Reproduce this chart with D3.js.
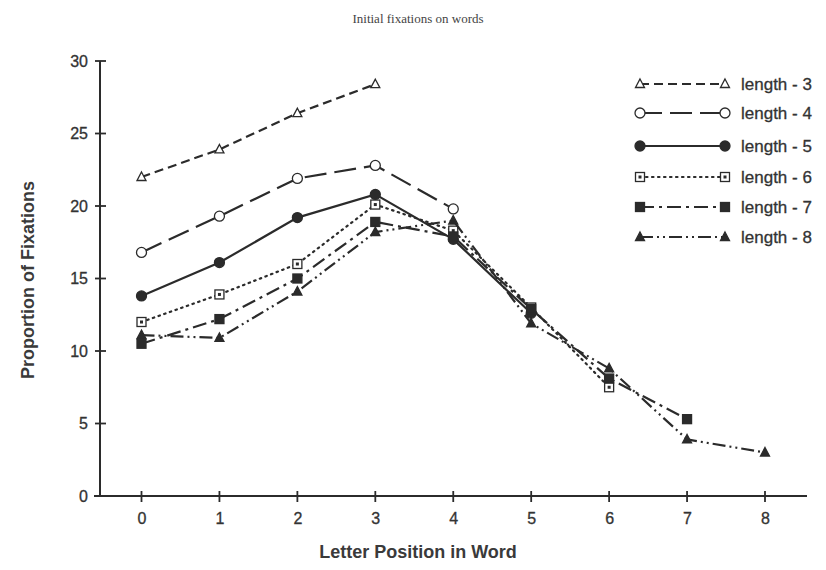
<!DOCTYPE html>
<html><head><meta charset="utf-8">
<script src="https://cdn.jsdelivr.net/npm/d3@7"></script>
<style>body{margin:0;background:#fff}svg{display:block}</style>
</head><body>
<svg id="c" width="826" height="570"></svg>
<script>
const positions = [0,1,2,3,4,5,6,7,8];
const seriesNames = ["length - 3","length - 4","length - 5","length - 6","length - 7","length - 8"];
const len3 = [22.0, 23.9, 26.4, 28.4];
const len4 = [16.8, 19.3, 21.9, 22.8, 19.8];
const len5 = [13.8, 16.1, 19.2, 20.8, 17.7, 12.6];
const len6 = [12.0, 13.9, 16.0, 20.1, 18.3, 13.0, 7.5];
const len7 = [10.5, 12.2, 15.0, 18.9, 17.9, 12.9, 8.1, 5.3];
const len8 = [11.1, 10.9, 14.1, 18.2, 19.0, 11.9, 8.8, 3.9, 3.0];
const yTicks = [0,5,10,15,20,25,30];
const title = "Initial fixations on words";
const xTitle = "Letter Position in Word";
const yTitle = "Proportion of Fixations";

const seriesValues = [len3, len4, len5, len6, len7, len8];
const dashes = ["9,5", "22,8", null, "1.5,4.5", "14,5,3,5", "13,4,2,4,2,4"];
const markers = ["triOpen","circOpen","circFill","sqDot","sqFill","triFill"];
const ink = "#2b2b2b";

const svg = d3.select("#c");
const x = d3.scaleLinear().domain([0,8]).range([141.5, 765]);
const y = d3.scaleLinear().domain([0,30]).range([496, 61]);

// title
svg.append("text").attr("x",418).attr("y",23).attr("text-anchor","middle")
  .attr("font-family","Liberation Serif, Times New Roman, serif").attr("font-size",13)
  .attr("fill","#444").text(title);

// axes
const yAxis = d3.axisLeft(y).tickValues(yTicks).tickSize(0).tickPadding(12);
const gy = svg.append("g").attr("transform","translate(100,0)").call(yAxis);
gy.select(".domain").remove();
gy.selectAll("text").attr("font-family","Liberation Sans, Arial, sans-serif").attr("font-size",16)
  .attr("fill","#333").attr("stroke","#333").attr("stroke-width",0.3);
svg.append("line").attr("x1",100).attr("x2",100).attr("y1",y(30)).attr("y2",y(0)+1).attr("stroke",ink).attr("stroke-width",2);
svg.selectAll(".ytk").data(yTicks).enter().append("line")
  .attr("x1",95).attr("x2",106).attr("y1",d=>y(d)).attr("y2",d=>y(d)).attr("stroke",ink).attr("stroke-width",1.8);

const xAxis = d3.axisBottom(x).tickValues(positions).tickSize(0).tickPadding(17).tickFormat(d3.format("d"));
const gx = svg.append("g").attr("transform",`translate(0,${y(0)})`).call(xAxis);
gx.select(".domain").remove();
gx.selectAll("text").attr("font-family","Liberation Sans, Arial, sans-serif").attr("font-size",16)
  .attr("fill","#333").attr("stroke","#333").attr("stroke-width",0.3);
svg.append("line").attr("x1",94).attr("x2",807).attr("y1",y(0)).attr("y2",y(0)).attr("stroke",ink).attr("stroke-width",2);
svg.selectAll(".xtk").data(positions).enter().append("line")
  .attr("x1",d=>x(d)).attr("x2",d=>x(d)).attr("y1",y(0)-5).attr("y2",y(0)+6).attr("stroke",ink).attr("stroke-width",1.8);

svg.append("text").attr("x",418).attr("y",558).attr("text-anchor","middle")
  .attr("font-family","Liberation Sans, Arial, sans-serif").attr("font-size",18).attr("font-weight","bold")
  .attr("fill","#3a3a3a").text(xTitle);
svg.append("text").attr("transform","translate(34,280) rotate(-90)").attr("text-anchor","middle")
  .attr("font-family","Liberation Sans, Arial, sans-serif").attr("font-size",18).attr("font-weight","bold")
  .attr("fill","#3a3a3a").text(yTitle);

function drawMarker(g, type, cx, cy){
  const s = 4.5;
  if(type==="triOpen"||type==="triFill"){
    g.append("path").attr("d",`M${cx},${cy-s-0.5}L${cx+s},${cy+s-1}L${cx-s},${cy+s-1}Z`)
      .attr("fill",type==="triFill"?ink:"#fff").attr("stroke",ink).attr("stroke-width",1.3);
  } else if(type==="circOpen"||type==="circFill"){
    g.append("circle").attr("cx",cx).attr("cy",cy).attr("r",5)
      .attr("fill",type==="circFill"?ink:"#fff").attr("stroke",ink).attr("stroke-width",1.3);
  } else if(type==="sqDot"||type==="sqFill"){
    g.append("rect").attr("x",cx-4.5).attr("y",cy-4.5).attr("width",9).attr("height",9)
      .attr("fill",type==="sqFill"?ink:"#fff").attr("stroke",ink).attr("stroke-width",1.3);
    if(type==="sqDot") g.append("rect").attr("x",cx-1.5).attr("y",cy-1.5).attr("width",3).attr("height",3).attr("fill",ink);
  }
}

const line = d3.line().x((d,i)=>x(positions[i])).y(d=>y(d));
seriesValues.forEach((vals,k)=>{
  const g = svg.append("g");
  g.append("path").attr("d",line(vals)).attr("fill","none").attr("stroke",ink)
    .attr("stroke-width",2.2).attr("stroke-dasharray",dashes[k]).attr("stroke-linecap",k===3?"round":"butt");
  vals.forEach((v,i)=>drawMarker(g, markers[k], x(positions[i]), y(v)));
});

// legend
const legY = [84,113,146,177,207,237];
seriesNames.forEach((name,k)=>{
  const g = svg.append("g");
  const ly = legY[k];
  g.append("line").attr("x1",640).attr("x2",725).attr("y1",ly).attr("y2",ly).attr("stroke",ink)
    .attr("stroke-width",2.2).attr("stroke-dasharray",dashes[k]).attr("stroke-linecap",k===3?"round":"butt");
  drawMarker(g, markers[k], 640, ly);
  drawMarker(g, markers[k], 725, ly);
  g.append("text").attr("x",741).attr("y",ly+6).attr("font-family","Liberation Sans, Arial, sans-serif")
    .attr("font-size",17).attr("fill","#333").attr("stroke","#333").attr("stroke-width",0.3).text(name);
});
</script>
</body></html>
